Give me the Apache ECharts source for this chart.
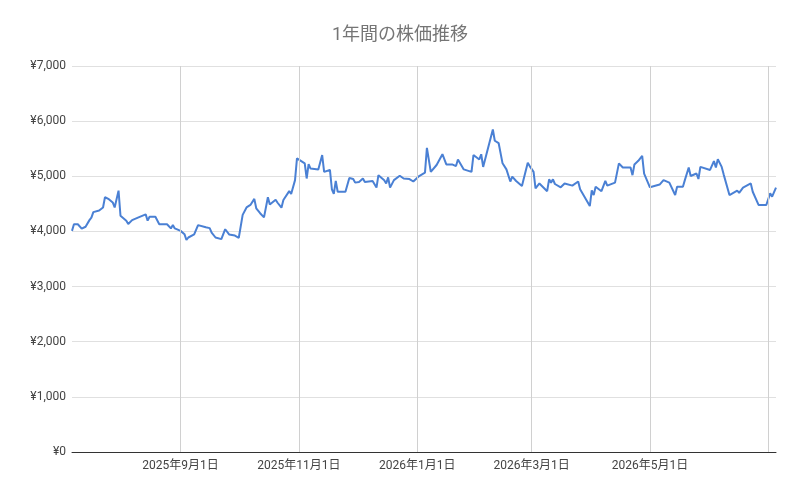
<!DOCTYPE html>
<html>
<head>
<meta charset="utf-8">
<script src="https://cdn.jsdelivr.net/npm/echarts@6/dist/echarts.min.js"></script>
<style>html,body{margin:0;padding:0;background:#fff}#c{width:800px;height:494px}</style>
</head>
<body>
<div id="c"></div>
<script>
const titleText = '1年間の株価推移';
const dates = [
'2025-07-07','2025-07-08','2025-07-10','2025-07-12','2025-07-14','2025-07-16','2025-07-17','2025-07-18','2025-07-21','2025-07-23','2025-07-24','2025-07-26','2025-07-28','2025-07-29','2025-07-31','2025-08-01','2025-08-04','2025-08-05','2025-08-07','2025-08-10','2025-08-14','2025-08-15','2025-08-16','2025-08-19','2025-08-21','2025-08-25','2025-08-27','2025-08-28','2025-08-29','2025-09-01','2025-09-03','2025-09-04','2025-09-05','2025-09-08','2025-09-10','2025-09-14','2025-09-16',
'2025-09-17','2025-09-19','2025-09-22','2025-09-23','2025-09-24','2025-09-26','2025-09-29','2025-10-01','2025-10-02','2025-10-03','2025-10-05','2025-10-07','2025-10-08','2025-10-09','2025-10-10','2025-10-12','2025-10-14','2025-10-16','2025-10-17','2025-10-20','2025-10-21','2025-10-23','2025-10-24','2025-10-27','2025-10-28','2025-10-30','2025-10-31','2025-11-04','2025-11-05','2025-11-06','2025-11-07','2025-11-11','2025-11-13','2025-11-14','2025-11-17','2025-11-18','2025-11-19','2025-11-20','2025-11-21','2025-11-25','2025-11-27',
'2025-11-29','2025-11-30','2025-12-02','2025-12-04','2025-12-05','2025-12-09','2025-12-11','2025-12-12','2025-12-15','2025-12-16','2025-12-17','2025-12-18','2025-12-20','2025-12-23','2025-12-25','2025-12-28','2025-12-30','2026-01-02','2026-01-05','2026-01-06','2026-01-08','2026-01-11','2026-01-14','2026-01-16','2026-01-19','2026-01-21','2026-01-22','2026-01-25','2026-01-29','2026-01-30','2026-02-02','2026-02-03','2026-02-04','2026-02-05','2026-02-09',
'2026-02-10','2026-02-12','2026-02-14','2026-02-16','2026-02-18','2026-02-19','2026-02-21','2026-02-24','2026-02-27','2026-02-28','2026-03-02','2026-03-03','2026-03-05','2026-03-09','2026-03-10','2026-03-11','2026-03-12','2026-03-13','2026-03-16','2026-03-18','2026-03-22','2026-03-25','2026-03-26','2026-03-31','2026-04-01','2026-04-02','2026-04-03','2026-04-06','2026-04-08','2026-04-09','2026-04-13','2026-04-15','2026-04-17','2026-04-21',
'2026-04-22','2026-04-23','2026-04-25','2026-04-27','2026-04-28','2026-05-01','2026-05-06','2026-05-08','2026-05-11','2026-05-14','2026-05-15','2026-05-18','2026-05-19','2026-05-20','2026-05-21','2026-05-22','2026-05-25','2026-05-26','2026-05-27','2026-06-01','2026-06-03','2026-06-04','2026-06-05','2026-06-07','2026-06-08','2026-06-11','2026-06-15','2026-06-16','2026-06-18','2026-06-19','2026-06-22','2026-06-23','2026-06-26','2026-06-30','2026-07-02','2026-07-03','2026-07-05'
];
const prices = [
4010,4130,4130,4050,4085,4205,4250,4350,4380,4435,4620,4585,4525,4435,4740,4285,4195,4135,4205,4250,4310,4195,4265,4265,4130,4130,4055,4115,4055,4010,3950,3845,3890,3945,4115,4075,4060,
3980,3890,3860,3860,4040,3945,3925,3885,3905,4300,4435,4480,4480,4590,4420,4330,4255,4620,4490,4575,4520,4430,4570,4730,4680,4930,5325,5235,4960,5220,5140,5125,5385,5080,5115,4765,4680,4915,4720,4720,4970,
4950,4885,4895,4960,4895,4915,4795,5020,4930,4870,4980,4795,4930,5010,4960,4950,4905,5005,5065,5515,5080,5205,5400,5215,5215,5185,5305,5125,5080,5385,5305,5400,5170,5170,5850,
5645,5600,5235,5125,4905,4995,4915,4825,5245,5185,5080,4780,4870,4730,4945,4885,4945,4860,4800,4870,4830,4905,4765,4460,4745,4660,4810,4730,4915,4830,4885,5235,5160,5160,
5020,5215,5280,5370,5050,4800,4850,4930,4885,4660,4810,4810,4930,4905,5160,5005,5050,4950,5170,5115,5275,5160,5310,5170,5035,4660,4740,4700,4795,4770,4870,4720,4480,4480,4690,4630,4795
];
const gridDates = ['2025-09-01','2025-11-01','2026-01-01','2026-03-01','2026-05-01','2026-07-01'];
const labelDates = ['2025-09-01','2025-11-01','2026-01-01','2026-03-01','2026-05-01'];
const yTicks = [0,1000,2000,3000,4000,5000,6000,7000];

function ts(s){ const p = s.split('-').map(Number); return new Date(p[0], p[1]-1, p[2]).getTime(); }
const seriesData = dates.map((d,i)=>[ts(d), prices[i]]);

const chart = echarts.init(document.getElementById('c'), null, {renderer:'canvas'});
const font = "Roboto, 'Noto Sans CJK JP', sans-serif";
chart.setOption({
  animation:false,
  backgroundColor:'#ffffff',
  title:{text:titleText,left:'center',top:22,textStyle:{fontFamily:font,fontSize:18,fontWeight:'normal',color:'#757575'}},
  grid:{left:72,right:24,top:66,bottom:42,containLabel:false},
  xAxis:{
    type:'value',
    min:ts(dates[0]), max:ts(dates[dates.length-1]),
    axisLine:{show:true,onZero:false,lineStyle:{color:'#333333',width:1}},
    axisTick:{show:false},
    splitLine:{show:false},
    axisLabel:{
      customValues:labelDates.map(ts),
      showMinLabel:true, showMaxLabel:true, hideOverlap:false,
      color:'#444444',fontFamily:font,fontSize:12,margin:8,
      formatter:function(v){const d=new Date(v);return d.getFullYear()+'年'+(d.getMonth()+1)+'月'+d.getDate()+'日';}
    }
  },
  yAxis:{
    type:'value',min:yTicks[0],max:yTicks[yTicks.length-1],interval:1000,
    axisLine:{show:false},axisTick:{show:false},
    splitLine:{lineStyle:{color:'#e0e0e0',width:1}},
    axisLabel:{color:'#444444',fontFamily:font,fontSize:12,margin:6,
      formatter:function(v){return '¥'+v.toLocaleString('en-US');}}
  },
  series:[{
    type:'line',data:[],z:1,silent:true,
    markLine:{silent:true,symbol:'none',label:{show:false},animation:false,
      lineStyle:{color:'#d0d0d0',width:1,type:'solid'},
      data:gridDates.map(d=>({xAxis:ts(d)}))}
  },{
    type:'line',data:seriesData,showSymbol:false,symbol:'none',z:3,
    lineStyle:{color:'#4a80d4',width:2},
    itemStyle:{color:'#4a80d4'}
  }]
});
</script>
</body>
</html>
